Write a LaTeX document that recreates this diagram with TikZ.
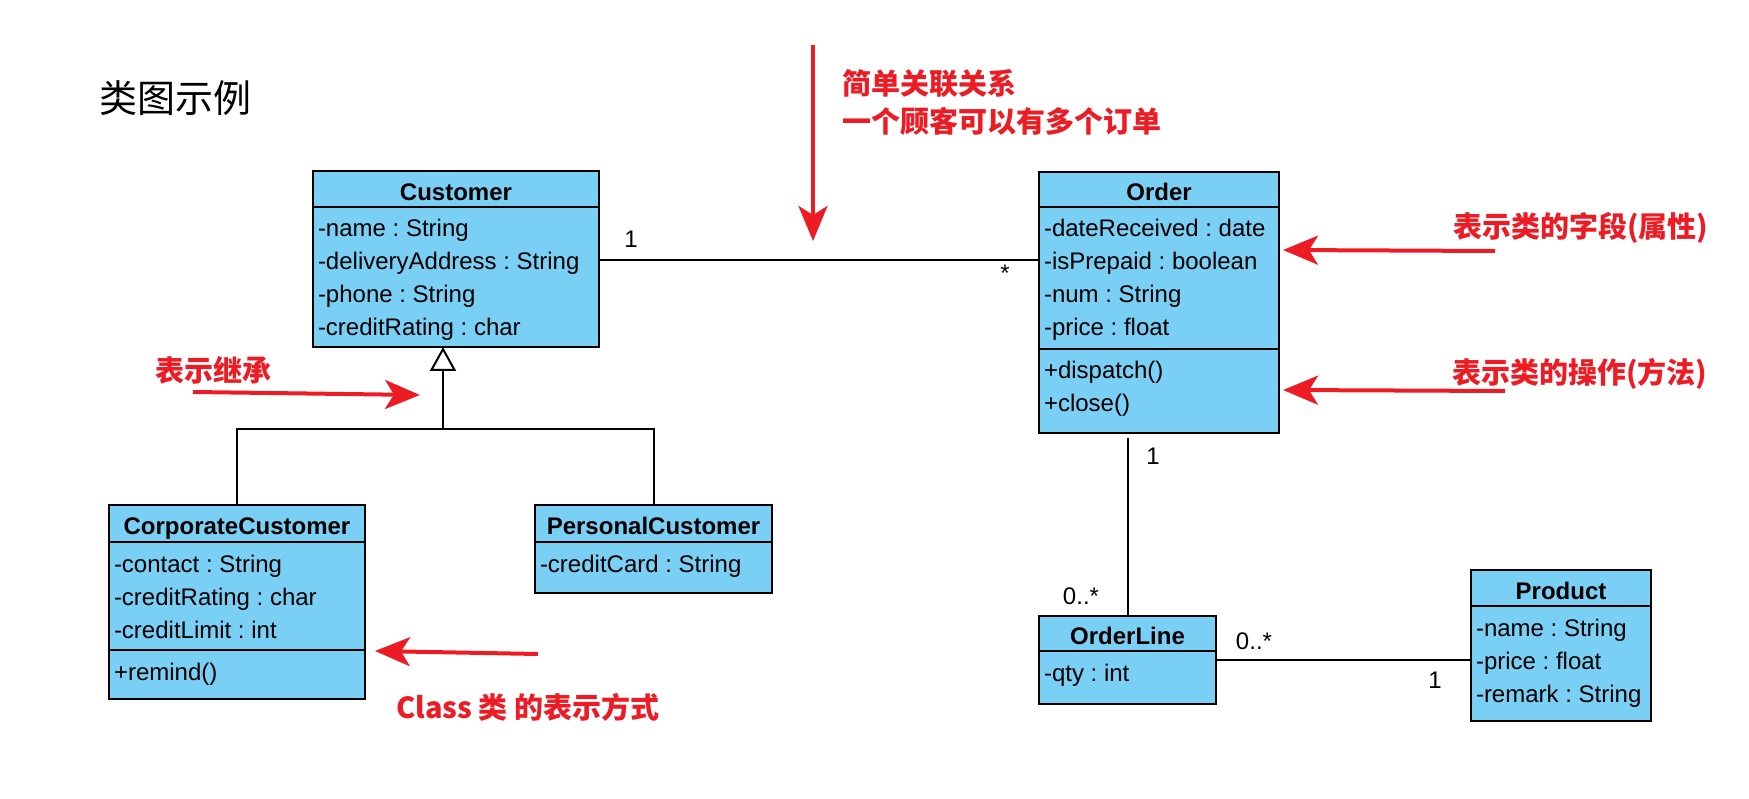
\documentclass[tikz,border=0pt]{standalone}
\usepackage{fontspec}
\setmainfont{Liberation Sans}
\newfontfamily\cjk{Noto Sans CJK SC}
\usetikzlibrary{positioning,arrows.meta}
\definecolor{classblue}{RGB}{122,207,245}
\definecolor{annot}{RGB}{237,28,36}
\newcommand{\boxfont}{\fontsize{24}{33}\selectfont\frenchspacing}
\newcommand{\rows}[3]{\parbox[c][#2][t]{#1}{\raggedright\rule{0pt}{30pt}#3}}
\tikzstyle{chead} = [draw, fill=classblue, line width=2pt, outer sep=0pt, inner sep=0pt, font=\boxfont\bfseries, text height=22.5pt, text depth=0pt]
\tikzstyle{cbody} = [draw, fill=classblue, line width=2pt, outer sep=0pt, inner xsep=5pt, inner ysep=0pt, font=\boxfont]
\tikzstyle{link} = [line width=2pt]
\tikzstyle{mult} = [inner sep=0pt, font=\boxfont]
\tikzstyle{note} = [text=annot, font=\cjk\bfseries\fontsize{29}{38}\selectfont, inner sep=0pt, align=left, anchor=west]
\tikzstyle{notearrow} = [draw=annot, line width=4pt, -{Stealth[length=35pt, width=29pt, inset=9pt]}]
\tikzstyle{inherit} = [line width=2pt, -{Triangle[open, length=24pt, width=26pt]}]

\begin{document}
\begin{tikzpicture}[x=1pt, y=-1pt]
    \useasboundingbox (0,0) rectangle (1749,799);

    \node[anchor=west, inner sep=0pt, font=\cjk\fontsize{38}{38}\selectfont] (title) at (99,98) {类图示例};

    % classes
    \node[chead, minimum width=286pt, minimum height=36pt] (cust) at (456,189) {Customer};
    \node[cbody, below=0pt of cust] (custA) {\rows{276pt}{140pt}{-name : String\\-deliveryAddress : String\\-phone : String\\-creditRating : char}};

    \node[chead, minimum width=240pt, minimum height=35pt] (ord) at (1159,189.5) {Order};
    \node[cbody, below=0pt of ord] (ordA) {\rows{230pt}{142pt}{-dateReceived : date\\-isPrepaid : boolean\\-num : String\\-price : float}};
    \node[cbody, below=0pt of ordA] (ordO) {\rows{230pt}{84pt}{+dispatch()\\+close()}};

    \node[chead, minimum width=256pt, minimum height=37pt] (corp) at (237,523.5) {CorporateCustomer};
    \node[cbody, below=0pt of corp] (corpA) {\rows{246pt}{108pt}{-contact : String\\-creditRating : char\\-creditLimit : int}};
    \node[cbody, below=0pt of corpA] (corpO) {\rows{246pt}{49pt}{+remind()}};

    \node[chead, minimum width=237pt, minimum height=37pt] (pers) at (653.5,523.5) {PersonalCustomer};
    \node[cbody, below=0pt of pers] (persA) {\rows{227pt}{51pt}{-creditCard : String}};

    \node[chead, minimum width=177pt, minimum height=35pt] (ol) at (1127.5,633.5) {OrderLine};
    \node[cbody, below=0pt of ol] (olA) {\rows{167pt}{53pt}{-qty : int}};

    \node[chead, minimum width=180pt, minimum height=36pt] (prod) at (1561,588) {Product};
    \node[cbody, below=0pt of prod] (prodA) {\rows{170pt}{115pt}{-name : String\\-price : float\\-remark : String}};

    % associations
    \coordinate (ca) at ([yshift=17pt]custA.east);
    \draw[link] (ca) -- (ca -| ordA.west)
        node[mult, pos=0.073, yshift=21pt] (m1) {1}
        node[mult, pos=0.923, yshift=-13pt] (m2) {*};

    \coordinate (ob) at (ol.north |- ordO.south);
    \draw[link] (ol.north) -- ([yshift=-5pt]ob)
        node[mult, pos=0.11, xshift=-46.5pt] (m3) {0..*}
        node[mult, pos=0.899, xshift=25.5pt] (m4) {1};

    \coordinate (pl) at ([yshift=3.5pt]prodA.west);
    \draw[link] (olA.east |- pl) -- (pl)
        node[mult, pos=0.149, yshift=19pt] (m5) {0..*}
        node[mult, pos=0.859, yshift=-20pt] (m6) {1};

    % generalization
    \coordinate (gen) at (443,429);
    \draw[link] (corp.north) |- (gen) -| (pers.north);
    \draw[inherit] (gen) -- (custA.south -| gen);

    % red notes
    \node[note] (n1) at (842,102) {简单关联关系\\一个顾客可以有多个订单};
    \node[note] (n2) at (1453,228) {表示类的字段(属性)};
    \node[note] (n3) at (1452,374) {表示类的操作(方法)};
    \node[note] (n4) at (155,370) {表示继承};
    \node[note] (n5) at (396,707) {Class 类 的表示方式};

    \coordinate (t1) at (813,45);   \coordinate (h1) at (813,241);
    \coordinate (t2) at (1495,251); \coordinate (h2) at (1283,250);
    \coordinate (t3) at (1505,391); \coordinate (h3) at (1283,390);
    \coordinate (t4) at (193,392);  \coordinate (h4) at (420,395);
    \coordinate (t5) at (538,654);  \coordinate (h5) at (375,651);
    \draw[notearrow] (t1) -- (h1);
    \draw[notearrow] (t2) -- (h2);
    \draw[notearrow] (t3) -- (h3);
    \draw[notearrow] (t4) -- (h4);
    \draw[notearrow] (t5) -- (h5);
\end{tikzpicture}
\end{document}
